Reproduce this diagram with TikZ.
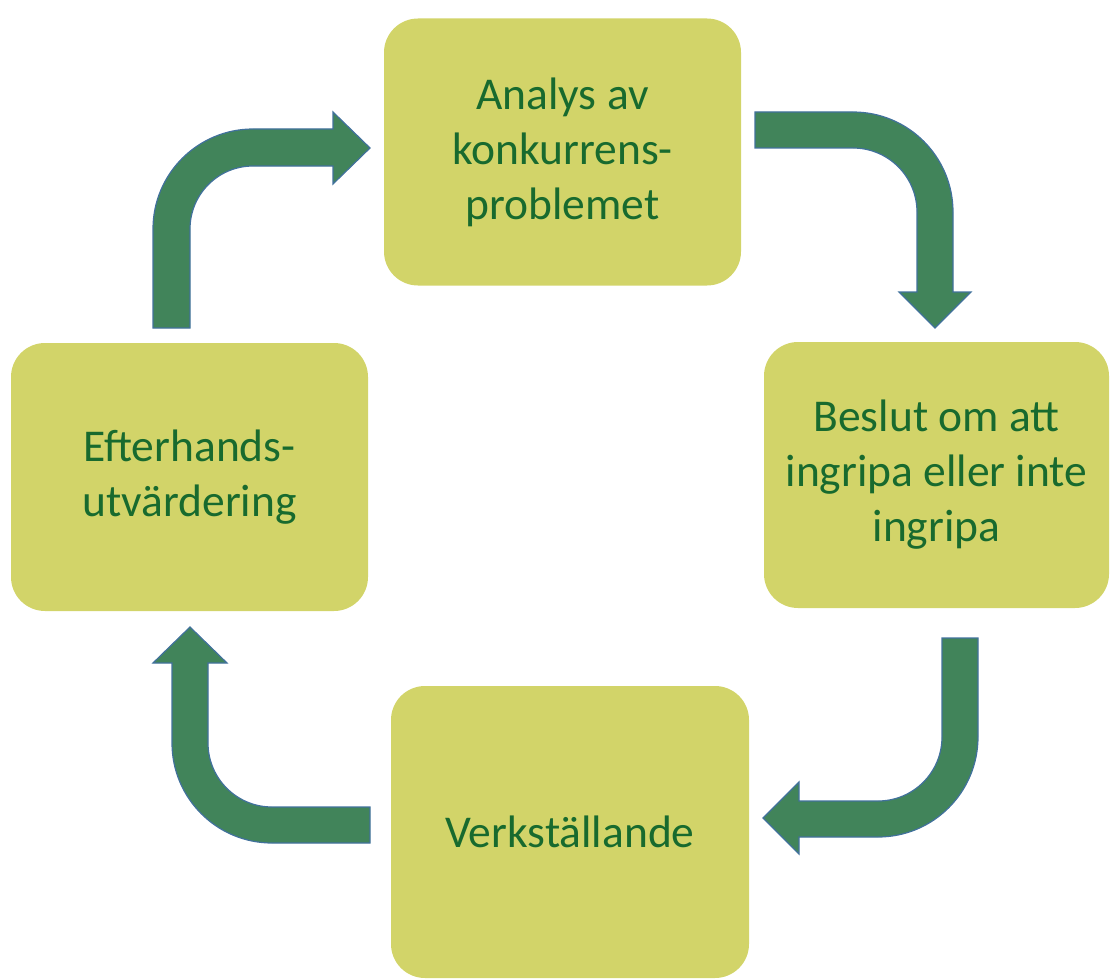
\documentclass[tikz,border=0pt]{standalone}
\usepackage{fontspec}
\setmainfont{Carlito}
\definecolor{boxfill}{HTML}{D2D469}
\definecolor{txtgreen}{HTML}{186A2E}
\definecolor{arrfill}{HTML}{41845A}
\definecolor{arrline}{HTML}{41719C}
\begin{document}
\begin{tikzpicture}[x=1pt,y=-1pt,
  box/.style={draw=none, fill=boxfill, rounded corners=34pt, align=center,
    text=txtgreen, font=\fontsize{45.5}{55}\selectfont, inner sep=0pt},
  bigarrow/.style={fill=arrfill, draw=arrline, line width=1.2pt, line join=miter}]
\useasboundingbox (0,0) rectangle (1111,979);
\node[box, minimum width=357, minimum height=267] (analys) at (562.5,152)
  {Analys av\\konkurrens-\\problemet};
\node[box, minimum width=345, minimum height=266] (beslut) at (936.5,475)
  {Beslut om att\\ingripa eller inte\\ingripa};
\node[box, minimum width=358, minimum height=292] (verk) at (570,832)
  {Verkställande};
\node[box, minimum width=357, minimum height=268] (efter) at (189.5,477)
  {Efterhands-\\utvärdering};
% top-left arrow
\draw[bigarrow] (153,328) -- (153,229) arc[start angle=180,end angle=270,radius=100]
  -- (333,129) -- (333,112) -- (370,148) -- (333,184) -- (333,166) -- (253,166)
  arc[start angle=270,end angle=180,radius=63] -- (190,328) -- cycle;
% top-right arrow
\draw[bigarrow] (755,112) -- (853,112) arc[start angle=-90,end angle=0,radius=100]
  -- (953,292) -- (971,292) -- (935,328) -- (899,292) -- (917,292) -- (917,212)
  arc[start angle=0,end angle=-90,radius=64] -- (755,148) -- cycle;
% bottom-right arrow
\draw[bigarrow] (942,638) -- (978,638) -- (978,737) arc[start angle=0,end angle=90,radius=100]
  -- (799,837) -- (799,854) -- (763,818) -- (799,782) -- (799,801) -- (878,801)
  arc[start angle=90,end angle=0,radius=64] -- cycle;
% bottom-left arrow
\draw[bigarrow] (370,843) -- (272,843) arc[start angle=90,end angle=180,radius=100]
  -- (172,663) -- (153,663) -- (190,627) -- (227,663) -- (208,663) -- (208,743)
  arc[start angle=180,end angle=90,radius=64] -- (370,807) -- cycle;
\end{tikzpicture}
\end{document}
